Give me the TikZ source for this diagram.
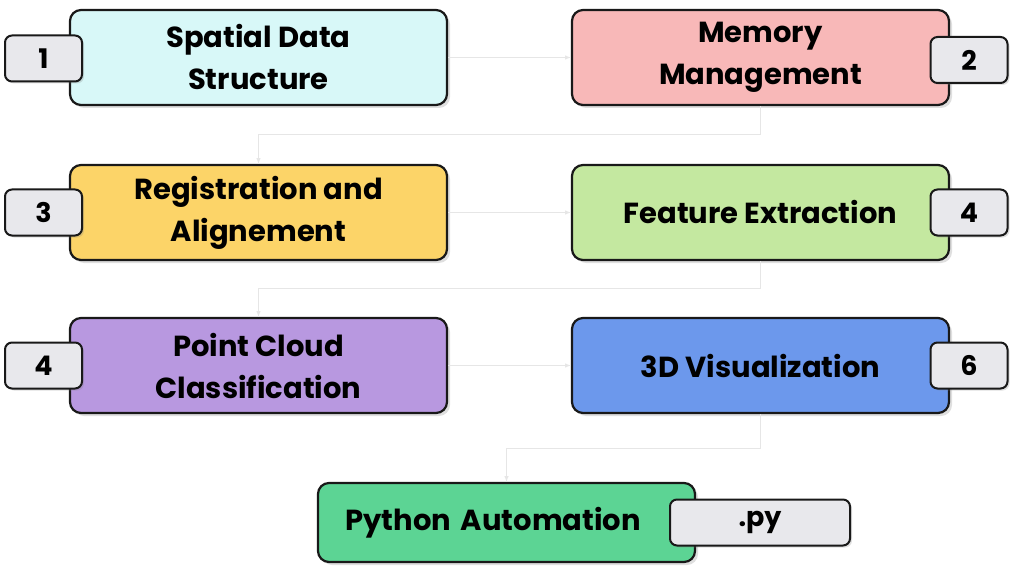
\documentclass[tikz,border=0pt]{standalone}
\usepackage{fontspec}
\setmainfont{Poppins}
\usetikzlibrary{shadows}
\definecolor{c1}{HTML}{D8F8F8}\definecolor{c2}{HTML}{F8B8B8}
\definecolor{c3}{HTML}{FCD468}\definecolor{c4}{HTML}{C4E8A0}
\definecolor{c5}{HTML}{B898E0}\definecolor{c6}{HTML}{6C98EC}
\definecolor{c7}{HTML}{5CD494}\definecolor{tg}{HTML}{E8E8EC}
\definecolor{ln}{HTML}{E6E6E6}
\begin{document}
\begin{tikzpicture}[x=1pt,y=-1pt,
 box/.style={draw=black!90,line width=2.2pt,rounded corners=11pt,minimum width=377pt,minimum height=95pt,align=center,font=\fontsize{29}{42}\selectfont\bfseries,drop shadow={opacity=0.25,shadow xshift=3pt,shadow yshift=-3pt}},
 tag/.style={draw=black!90,line width=2pt,fill=tg,rounded corners=7pt,minimum width=77pt,minimum height=46pt,font=\fontsize{27}{30}\selectfont\bfseries,drop shadow={opacity=0.25,shadow xshift=2pt,shadow yshift=-2pt}},
 con/.style={draw=ln,line width=1pt,-latex}]
\useasboundingbox (0,0) rectangle (1024,577);
\node[box,fill=c1] (b1) at (258.5,57.5) {Spatial Data\\Structure};
\node[box,fill=c2] (b2) at (760.5,57.5) {Memory\\Management};
\node[box,fill=c3] (b3) at (258.5,212.5) {Registration and\\Alignement};
\node[box,fill=c4] (b4) at (760.5,212.5) {Feature Extraction};
\node[box,fill=c5] (b5) at (258.5,365.5) {Point Cloud\\Classification};
\node[box,fill=c6] (b6) at (760.5,365.5) {3D Visualization};
\node[box,fill=c7,minimum height=79pt,text width=370pt,align=left] (b7) at (506.5,522.5) {\hspace*{24pt}Python Automation};
\node[tag] (t1) at (43.5,58.5) {1};
\node[tag] (t2) at (969,60) {2};
\node[tag] (t3) at (43.5,212.5) {3};
\node[tag] (t4) at (969,212.5) {4};
\node[tag] (t5) at (43.5,365.5) {4};
\node[tag] (t6) at (969,365.5) {6};
\node[tag,minimum width=180pt] (t7) at (760,522.5) {.py};
\coordinate (j1) at (760.5,135); \coordinate (k1) at (258.5,135);
\coordinate (j2) at (760.5,288); \coordinate (k2) at (258.5,288);
\coordinate (j3) at (760.5,448); \coordinate (k3) at (506.5,448);
\draw[con] (b1.east) -- (b2.west);
\draw[con] (b2.south) -- (j1) -- (k1) -- (b3.north);
\draw[con] (b3.east) -- (b4.west);
\draw[con] (b4.south) -- (j2) -- (k2) -- (b5.north);
\draw[con] (b5.east) -- (b6.west);
\draw[con] (b6.south) -- (j3) -- (k3) -- (b7.north);
\end{tikzpicture}
\end{document}
